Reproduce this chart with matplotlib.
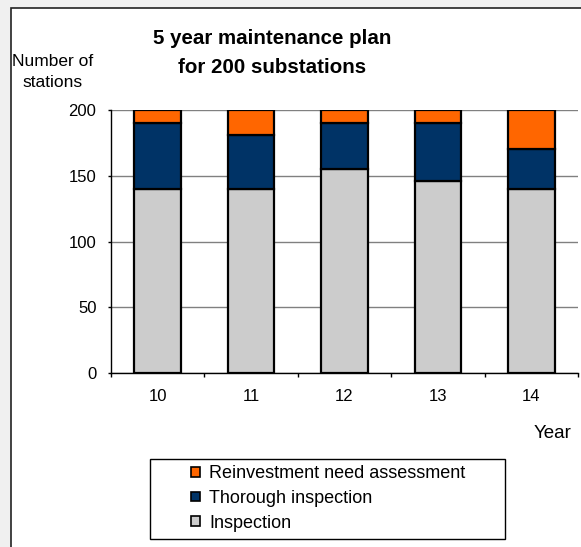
import matplotlib
matplotlib.use("Agg")
import matplotlib.pyplot as plt
from matplotlib.patches import Rectangle
import numpy as np

plt.rcParams['font.family'] = ['Liberation Sans', 'DejaVu Sans']

years = ["10", "11", "12", "13", "14"]
inspection = [140, 140, 155, 146, 140]
thorough = [50, 41, 35, 44, 30]
reinvestment = [10, 19, 10, 10, 30]
yticks = [0, 50, 100, 150, 200]

W, H = 581, 547
fig = plt.figure(figsize=(W / 100, H / 100), dpi=100)
fig.patch.set_facecolor('#F0F0F0')

# white chart panel with dark frame (runs past right/bottom edges)
fig.add_artist(Rectangle((11 / W, -0.05), 1.05, 1 - 8 / H + 0.05,
                         transform=fig.transFigure, facecolor='white',
                         edgecolor='#222222', linewidth=1.2, zorder=0))

ax = fig.add_axes([111 / W, 1 - 373.3 / H, (578 - 111) / W, (373.3 - 110) / H])
ax.set_facecolor('none')

x = np.arange(len(years))
edge = dict(edgecolor='black', linewidth=1.6, zorder=3)
b1 = ax.bar(x, inspection, width=0.5, color='#CCCCCC', label='Inspection', **edge)
b2 = ax.bar(x, thorough, width=0.5, bottom=inspection, color='#003366',
            label='Thorough inspection', **edge)
bottom2 = np.array(inspection) + np.array(thorough)
b3 = ax.bar(x, reinvestment, width=0.5, bottom=bottom2, color='#FF6600',
            label='Reinvestment need assessment', **edge)

ax.set_xlim(-0.5, len(years) - 0.5)
ax.set_ylim(0, 200)
ax.set_yticks(yticks)
ax.yaxis.grid(True, color='#808080', linewidth=1.0, zorder=0)
ax.set_axisbelow(True)

ax.set_xticks(x)
ax.set_xticklabels(years)
ax.set_xticks(np.arange(-0.5, len(years)), minor=True)
ax.tick_params(axis='x', which='major', length=0, pad=11, labelsize=12)
ax.tick_params(axis='x', which='minor', length=3, width=1, direction='out')
ax.tick_params(axis='y', length=2.5, width=1, direction='out', pad=8, labelsize=12)

for s in ('top', 'right'):
    ax.spines[s].set_visible(False)
for s in ('left', 'bottom'):
    ax.spines[s].set_color('black')
    ax.spines[s].set_linewidth(1.0)

fig.text(272 / W, 1 - 53 / H, "5 year maintenance plan\nfor 200 substations",
         ha='center', va='center', fontsize=14.8, fontweight='bold',
         linespacing=1.7)
fig.text(53 / W, 1 - 72 / H, "Number of\nstations", ha='center', va='center',
         fontsize=12.5, linespacing=1.55)
fig.text(553 / W, 1 - 434 / H, "Year", ha='center', va='center', fontsize=13.5)

# legend box
fig.add_artist(Rectangle((150 / W, 1 - 539 / H), (505 - 150) / W, (539 - 459) / H,
                         transform=fig.transFigure, facecolor='white',
                         edgecolor='black', linewidth=1.0, zorder=1))
leg = fig.legend(handles=[b3, b2, b1],
                 labels=['Reinvestment need assessment', 'Thorough inspection', 'Inspection'],
                 loc='upper left', bbox_to_anchor=(186 / W, 1 - 460 / H),
                 frameon=False, fontsize=13, handlelength=0.45, handleheight=0.45,
                 handletextpad=0.55, labelspacing=0.42, borderaxespad=0, borderpad=0.3)
leg.set_zorder(2)
for h in leg.legend_handles:
    h.set_linewidth(1.2)

fig.savefig('out.png', dpi=100)
